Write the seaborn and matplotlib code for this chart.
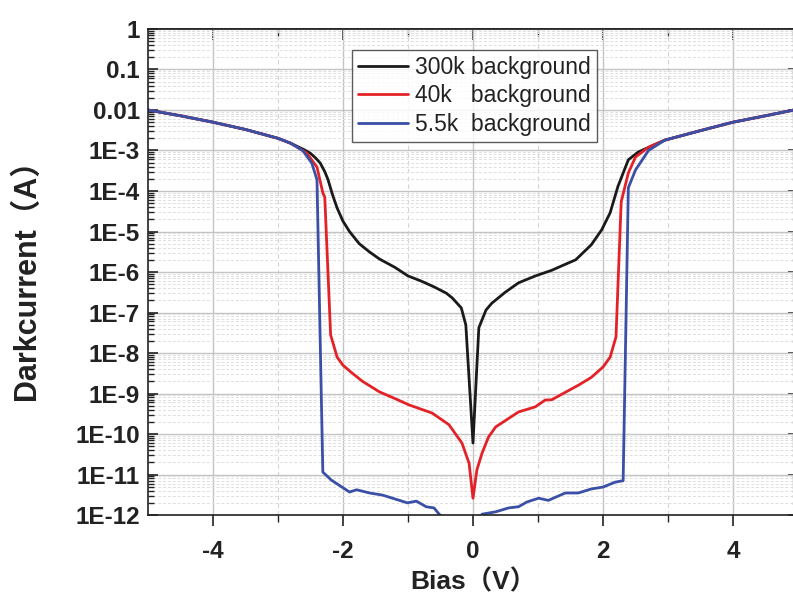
import numpy as np
import pandas as pd
import matplotlib
matplotlib.use("Agg")
import matplotlib.pyplot as plt
import seaborn as sns
from matplotlib.ticker import FixedLocator, FixedFormatter, NullFormatter, LogLocator

# ---------------- data ----------------
series_names = ["300k background", "40k   background", "5.5k  background"]
series_colors = ["#1a1a1a", "#e32228", "#3a4fa6"]

bias_300k = [-5.0, -4.5, -4.0, -3.5, -3.0, -2.8, -2.6, -2.5, -2.42, -2.35, -2.28, -2.23,
             -2.16, -2.09, -2.0, -1.9, -1.75, -1.6, -1.44, -1.2, -1.0, -0.8, -0.6,
             -0.41, -0.32, -0.18, -0.11, 0.0, 0.09, 0.2, 0.29, 0.5, 0.70, 0.96, 1.21, 1.4,
             1.58, 1.82, 1.98, 2.11, 2.23, 2.39, 2.54, 2.75, 2.95, 3.5, 4.0, 4.5, 5.0]
current_300k = [1.0e-2, 7.2e-3, 5.0e-3, 3.3e-3, 2.0e-3, 1.5e-3, 1.05e-3, 8.5e-4, 6.5e-4,
                4.9e-4, 3.0e-4, 1.9e-4, 8.0e-5, 3.8e-5, 1.8e-5, 1.0e-5, 5.0e-6, 3.2e-6,
                2.1e-6, 1.3e-6, 8.0e-7, 6.0e-7, 4.3e-7, 3.0e-7, 2.3e-7, 1.3e-7, 4.9e-8,
                6.0e-11, 4.2e-8, 1.15e-7, 1.7e-7, 3.2e-7, 5.4e-7, 8.0e-7, 1.1e-6, 1.5e-6,
                2.0e-6, 4.7e-6, 1.1e-5, 2.9e-5, 1.3e-4, 5.9e-4, 9.1e-4, 1.3e-3, 1.8e-3,
                3.1e-3, 5.0e-3, 7.2e-3, 1.05e-2]

bias_40k = [-5.0, -4.5, -4.0, -3.5, -3.0, -2.8, -2.56, -2.4, -2.31, -2.28, -2.19, -2.09,
            -2.0, -1.86, -1.7, -1.44, -1.2, -0.98, -0.63, -0.37, -0.17, -0.06, 0.0,
            0.06, 0.14, 0.24, 0.35, 0.70, 0.96, 1.11, 1.21, 1.62, 1.82, 2.0, 2.11,
            2.20, 2.28, 2.39, 2.50, 2.70, 2.95, 3.5, 4.0, 4.5, 5.0]
current_40k = [1.0e-2, 7.2e-3, 5.0e-3, 3.3e-3, 2.0e-3, 1.5e-3, 8.7e-4, 3.9e-4, 9.0e-5,
               7.0e-5, 2.8e-8, 7.9e-9, 5.0e-9, 3.2e-9, 2.0e-9, 1.1e-9, 7.5e-10, 5.2e-10,
               3.3e-10, 1.7e-10, 6.0e-11, 1.9e-11, 2.6e-12, 1.3e-11, 3.4e-11, 8.5e-11,
               1.5e-10, 3.5e-10, 4.7e-10, 6.9e-10, 7.0e-10, 1.6e-9, 2.5e-9, 4.5e-9,
               7.9e-9, 2.5e-8, 5.4e-5, 2.8e-4, 6.9e-4, 1.2e-3, 1.8e-3, 3.1e-3, 5.0e-3,
               7.2e-3, 1.05e-2]

bias_5k5 = [-5.0, -4.5, -4.0, -3.5, -3.0, -2.8, -2.62, -2.48, -2.40, -2.31, -2.18, -1.90,
            -1.79, -1.59, -1.39, -1.01, -0.87, -0.72, -0.60, -0.52, -0.3, 0.0, 0.14,
            0.35, 0.55, 0.70, 0.83, 1.01, 1.16, 1.42, 1.62, 1.82, 2.00, 2.19, 2.28,
            2.31, 2.39, 2.50, 2.70, 2.95, 3.5, 4.0, 4.5, 5.0]
current_5k5 = [1.0e-2, 7.2e-3, 5.0e-3, 3.3e-3, 2.0e-3, 1.5e-3, 1.0e-3, 4.9e-4, 1.9e-4,
               1.15e-11, 7.3e-12, 3.7e-12, 4.2e-12, 3.5e-12, 3.1e-12, 2.0e-12, 2.2e-12,
               1.6e-12, 1.5e-12, 1.05e-12, 5.0e-13, 3.0e-13, 1.05e-12, 1.2e-12, 1.5e-12,
               1.6e-12, 2.1e-12, 2.6e-12, 2.3e-12, 3.5e-12, 3.5e-12, 4.4e-12, 4.9e-12,
               6.5e-12, 6.9e-12, 7.0e-12, 1.2e-4, 3.3e-4, 1.0e-3, 1.8e-3, 3.1e-3, 5.0e-3,
               7.2e-3, 1.05e-2]

y_tick_values = [1, 1e-1, 1e-2, 1e-3, 1e-4, 1e-5, 1e-6, 1e-7, 1e-8, 1e-9, 1e-10, 1e-11, 1e-12]
y_tick_labels = ["1", "0.1", "0.01", "1E-3", "1E-4", "1E-5", "1E-6", "1E-7",
                 "1E-8", "1E-9", "1E-10", "1E-11", "1E-12"]
x_tick_values = [-4, -2, 0, 2, 4]
x_tick_labels = ["-4", "-2", "0", "2", "4"]
x_minor_values = [-3, -1, 1, 3]

# ---------------- build table ----------------
frames = []
for name, bx, cy in zip(series_names,
                        [bias_300k, bias_40k, bias_5k5],
                        [current_300k, current_40k, current_5k5]):
    frames.append(pd.DataFrame({"bias": bx, "current": cy, "series": name}))
df = pd.concat(frames, ignore_index=True)

# ---------------- style ----------------
sns.set_theme(style="white")
plt.rcParams["font.family"] = ["Liberation Sans", "Noto Sans CJK SC", "DejaVu Sans"]

fig = plt.figure(figsize=(7.93, 5.99), dpi=100)
ax = fig.add_axes([0.1866, 0.1402, 0.8197, 0.8114])

sns.lineplot(data=df, x="bias", y="current", hue="series", hue_order=series_names,
             palette=dict(zip(series_names, series_colors)), sort=False,
             estimator=None, units="series", linewidth=2.0, ax=ax)

ax.set_yscale("log")
ax.set_ylim(1e-12, 1)
ax.set_xlim(-5, 5)

ax.yaxis.set_major_locator(FixedLocator(y_tick_values))
ax.yaxis.set_major_formatter(FixedFormatter(y_tick_labels))
ax.yaxis.set_minor_locator(LogLocator(base=10, subs=np.arange(2, 10), numticks=100))
ax.yaxis.set_minor_formatter(NullFormatter())
ax.xaxis.set_major_locator(FixedLocator(x_tick_values))
ax.xaxis.set_major_formatter(FixedFormatter(x_tick_labels))
ax.xaxis.set_minor_locator(FixedLocator(x_minor_values))

# grid
ax.grid(which="major", color="#c4c4c4", linestyle="-", linewidth=1.0)
ax.grid(which="minor", axis="y", color="#dedede", linestyle=(0, (3, 2)), linewidth=0.7)
ax.grid(which="minor", axis="x", color="#d4d4d4", linestyle=(0, (4, 3)), linewidth=0.8)
ax.set_axisbelow(True)

for s in ax.spines.values():
    s.set_color("#222222")
    s.set_linewidth(1.2)

# bottom ticks outward, left ticks inward
ax.tick_params(axis="x", which="both", direction="out", color="#222222", bottom=True, top=False)
ax.tick_params(axis="y", which="both", direction="in", color="#222222", left=True, right=False)
ax.tick_params(axis="x", which="major", length=8, width=1.2, pad=10)
ax.tick_params(axis="x", which="minor", length=5, width=1.0)
ax.tick_params(axis="y", which="major", length=7, width=1.2, pad=6)
ax.tick_params(axis="y", which="minor", length=4, width=1.0)

# inward ticks on top and right
axt = ax.secondary_xaxis("top")
axt.xaxis.set_major_locator(FixedLocator(x_tick_values))
axt.xaxis.set_minor_locator(FixedLocator(x_minor_values))
axt.tick_params(which="both", direction="in", labeltop=False, color="#222222")
axt.tick_params(which="major", length=8, width=1.2)
axt.tick_params(which="minor", length=5, width=1.0)
axt.spines["top"].set_linewidth(1.2)

axr = ax.secondary_yaxis("right")
axr.yaxis.set_major_locator(FixedLocator(y_tick_values))
axr.yaxis.set_minor_locator(LogLocator(base=10, subs=np.arange(2, 10), numticks=100))
axr.yaxis.set_minor_formatter(NullFormatter())
axr.tick_params(which="both", direction="in", labelright=False, color="#222222")
axr.tick_params(which="major", length=7, width=1.2)
axr.tick_params(which="minor", length=4, width=1.0)

for lab in ax.get_xticklabels() + ax.get_yticklabels():
    lab.set_fontsize(17.5)
    lab.set_fontweight("bold")
    lab.set_color("#222222")

ax.set_xlabel("Bias（V）", fontsize=19, fontweight="bold", color="#222222", labelpad=4)
ax.set_ylabel("Darkcurrent（A）", fontsize=22, fontweight="bold", color="#222222", labelpad=24)

# legend
handles, labels = ax.get_legend_handles_labels()
leg = ax.legend(handles, labels, loc="upper left", bbox_to_anchor=(0.444, 0.9165),
                bbox_transform=fig.transFigure, frameon=True, fancybox=False,
                edgecolor="#333333", fontsize=16.5, handlelength=2.2, handletextpad=0.3,
                borderpad=0.25, labelspacing=0.25, borderaxespad=0)
leg.get_frame().set_linewidth(1.0)
for t in leg.get_texts():
    t.set_color("#222222")

fig.savefig("out.png", dpi=100)
